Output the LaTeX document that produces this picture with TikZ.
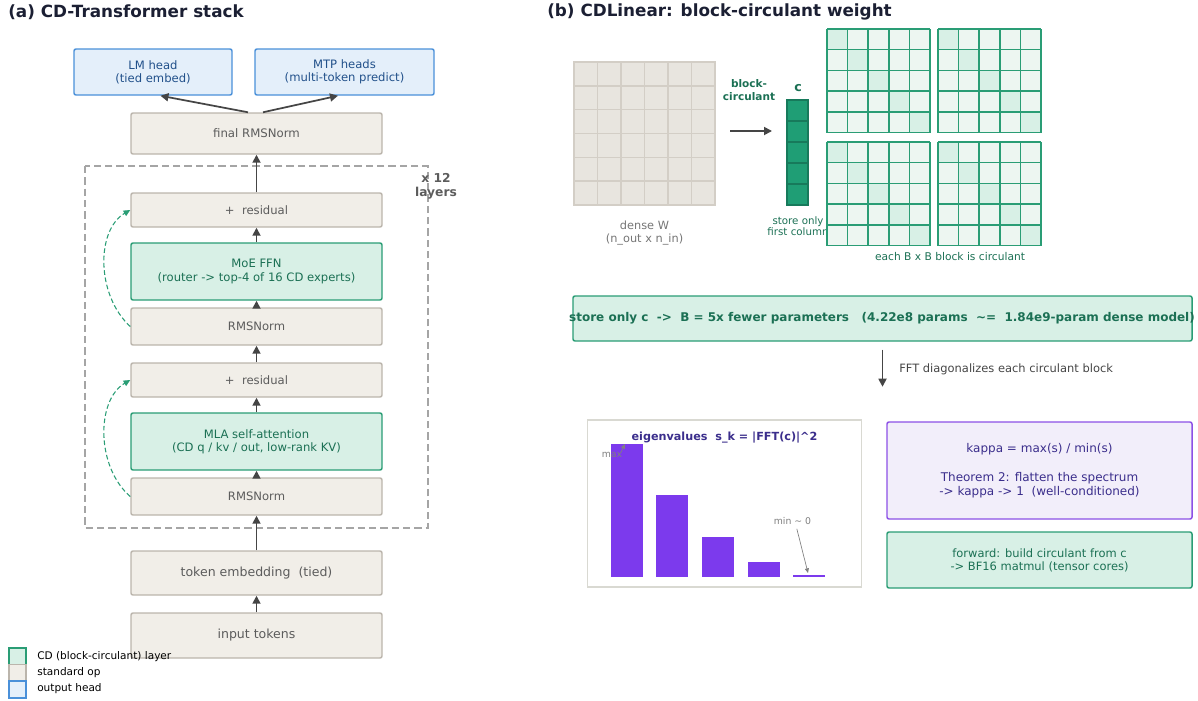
\documentclass[tikz,border=0pt]{standalone}
\usepackage{fontspec}
\setmainfont{DejaVu Sans}
\usetikzlibrary{arrows.meta}

% palette
\definecolor{cdfill}{HTML}{D8F0E6}
\definecolor{cdline}{HTML}{2A9D75}
\definecolor{cdtext}{HTML}{1B7054}
\definecolor{stdfill}{HTML}{F1EEE8}
\definecolor{stdline}{HTML}{BBB5AC}
\definecolor{stdtext}{HTML}{5C5C5C}
\definecolor{headfill}{HTML}{E4EFFA}
\definecolor{headline}{HTML}{4A90D9}
\definecolor{headtext}{HTML}{21508A}
\definecolor{titletext}{HTML}{1B1F33}
\definecolor{flowgray}{HTML}{454545}
\definecolor{framegray}{HTML}{A5A5A5}
\definecolor{densefill}{HTML}{E8E5DF}
\definecolor{denseline}{HTML}{D3CEC6}
\definecolor{cdark}{HTML}{1F9E75}
\definecolor{cdarkline}{HTML}{177A5B}
\definecolor{cellfill}{HTML}{EDF6F1}
\definecolor{barpurple}{HTML}{7C3AED}
\definecolor{kapfill}{HTML}{F2EEFA}
\definecolor{kapline}{HTML}{8C50E6}
\definecolor{kaptext}{HTML}{3B2E8C}
\definecolor{annotgray}{HTML}{808080}
\definecolor{chartline}{HTML}{D9D9D2}

\tikzset{
  opbox/.style={draw, rounded corners=1.5pt, line width=1.1pt, align=center, inner sep=0pt,
    font=\fontsize{8.7}{9.8}\selectfont},
  stdbox/.style={opbox, fill=stdfill, draw=stdline, text=stdtext},
  cdbox/.style={opbox, fill=cdfill, draw=cdline, text=cdtext},
  headbox/.style={opbox, fill=headfill, draw=headline, text=headtext},
  flow/.style={-{Stealth[inset=0pt, length=6pt, width=6pt]}, line width=1.3pt, draw=flowgray},
  skiparrow/.style={-{Stealth[inset=0pt, length=5pt, width=4.5pt]}, dash pattern=on 3.5pt off 2pt,
    line width=0.8pt, draw=cdline},
  annot/.style={-{Stealth[inset=0pt, length=3.5pt, width=3pt]}, line width=0.5pt, draw=annotgray},
  paneltitle/.style={anchor=west, inner sep=0pt, text=titletext, font=\fontsize{12.6}{14}\selectfont\bfseries},
  legendkey/.style={draw, line width=1.1pt, minimum size=12.75pt, inner sep=0pt},
  legendtext/.style={anchor=west, inner sep=0pt, font=\fontsize{7.9}{9}\selectfont},
}

\begin{document}
\begin{tikzpicture}[x=0.75pt, y=-0.75pt]
  \useasboundingbox (0,0) rectangle (1198,700);

  % ---- (a) stack ----
  \node[paneltitle] (titlea) at (8,12) {(a) CD-Transformer stack};

  % output heads
  \node[headbox, minimum width=118.5pt, minimum height=34.5pt] (lmhead) at (153,72) {LM head\\(tied embed)};
  \node[headbox, minimum width=134.25pt, minimum height=34.5pt] (mtp) at (344.5,72) {MTP heads\\(multi-token predict)};
  \node[stdbox, minimum width=188.25pt, minimum height=30.75pt, font=\fontsize{8.8}{10}\selectfont] (finalnorm) at (256.5,133.5) {final RMSNorm};

  % repeated layer
  \draw[framegray, line width=1.1pt, dash pattern=on 5.5pt off 3pt] (85,166) rectangle (428,528);
  \node[align=center, text=stdtext, inner sep=0pt, font=\fontsize{9.2}{10.5}\selectfont\bfseries] (repeatlabel) at (436,186) {x 12\\layers};

  \node[stdbox, minimum width=188.25pt, minimum height=25.5pt] (res2) at (256.5,210) {+\ \ residual};
  \node[cdbox, minimum width=188.25pt, minimum height=42.75pt] (moe) at (256.5,271.5) {MoE FFN\\(router -> top-4 of 16 CD experts)};
  \node[stdbox, minimum width=188.25pt, minimum height=27.75pt] (norm2) at (256.5,326.5) {RMSNorm};
  \node[stdbox, minimum width=188.25pt, minimum height=25.5pt] (res1) at (256.5,380) {+\ \ residual};
  \node[cdbox, minimum width=188.25pt, minimum height=42.75pt] (mla) at (256.5,441.5) {MLA self-attention\\(CD q / kv / out, low-rank KV)};
  \node[stdbox, minimum width=188.25pt, minimum height=27.75pt] (norm1) at (256.5,496.5) {RMSNorm};

  % input side
  \node[stdbox, minimum width=188.25pt, minimum height=33pt, font=\fontsize{9.4}{11}\selectfont] (embed) at (256.5,573) {token embedding\ \ (tied)};
  \node[stdbox, minimum width=188.25pt, minimum height=33.75pt, font=\fontsize{9.4}{11}\selectfont] (tokens) at (256.5,635.5) {input tokens};

  % data flow
  \draw[flow] (tokens.north) -- (embed.south);
  \draw[flow] (embed.north) -- (norm1.south);
  \draw[flow] (norm1.north) -- (mla.south);
  \draw[flow] (mla.north) -- (res1.south);
  \draw[flow] (res1.north) -- (norm2.south);
  \draw[flow] (norm2.north) -- (moe.south);
  \draw[flow] (moe.north) -- (res2.south);
  \draw[flow] (res2.north) -- (finalnorm.south);
  \draw[flow] ([xshift=-6.4pt]finalnorm.north) -- ([xshift=5.6pt]lmhead.south);
  \draw[flow] ([xshift=4.9pt]finalnorm.north) -- ([xshift=-4.9pt]mtp.south);

  % residual skips
  \draw[skiparrow] (norm2.west) .. controls (96,295) and (96,230) .. (res2.west);
  \draw[skiparrow] (norm1.west) .. controls (96,467) and (96,400) .. (res1.west);

  % legend
  \node[legendkey, fill=cdfill, draw=cdline] (keycd) at (17.5,656.5) {};
  \node[legendkey, fill=stdfill, draw=stdline] (keystd) at (17.5,673) {};
  \node[legendkey, fill=headfill, draw=headline] (keyhead) at (17.5,689.5) {};
  \node[legendtext] (legcd) at (37,657) {CD (block-circulant) layer};
  \node[legendtext] (legstd) at (37,673) {standard op};
  \node[legendtext] (leghead) at (37,689) {output head};

  % ---- (b) CDLinear ----
  \node[paneltitle] (titleb) at (547,12) {(b) CDLinear: block-circulant weight};

  % dense W
  \node[draw=denseline, fill=densefill, line width=1.1pt, minimum width=105.75pt, minimum height=107.25pt, inner sep=0pt] (densew) at (644.5,133.5) {};
  \foreach \i in {1,...,5} {
    \draw[denseline, line width=1.1pt] ({574+\i*23.5},62) -- ({574+\i*23.5},205);
    \draw[denseline, line width=1.1pt] (574,{62+\i*23.83}) -- (715,{62+\i*23.83});
  }
  \node[align=center, text=stdtext!85, inner sep=0pt, font=\fontsize{8.5}{9.5}\selectfont] (densecap) at (644.5,233) {dense W\\(n\_out x n\_in)};

  % compression arrow
  \node[align=center, text=cdtext, inner sep=0pt, font=\fontsize{7.9}{9.75}\selectfont\bfseries] (bclabel) at (749,90.5) {block-\\circulant};
  \coordinate (squeezefrom) at (730,131);
  \coordinate (squeezeto) at (772,131);
  \draw[flow] (squeezefrom) -- (squeezeto);

  % stored column c
  \node[inner sep=0pt, text=cdtext, font=\fontsize{9.5}{11}\selectfont\bfseries] (clabel) at (798,88) {c};
  \node[draw=cdarkline, fill=cdark, line width=0.8pt, minimum width=15.75pt, minimum height=78.75pt, inner sep=0pt] (ccol) at (797.5,152.5) {};
  \foreach \i in {1,...,4}
    \draw[cdarkline, line width=1.1pt] (787,{100+\i*21}) -- (808,{100+\i*21});
  \node[align=center, text=cdtext, inner sep=0pt, font=\fontsize{7.7}{8.25}\selectfont] (ccap) at (798,226.5) {store only\\first column};

  % circulant blocks
  \foreach \bx/\by in {827/29, 938/29, 827/142, 938/142} {
    \fill[cellfill] (\bx,\by) rectangle ({\bx+103},{\by+103.5});
    \foreach \k in {0,...,4}
      \fill[cdfill] ({\bx+\k*20.6},{\by+\k*20.7}) rectangle ({\bx+\k*20.6+20.6},{\by+\k*20.7+20.7});
    \foreach \k in {0,...,5} {
      \draw[cdline, line width=1.1pt] ({\bx+\k*20.6},\by) -- ({\bx+\k*20.6},{\by+103.5});
      \draw[cdline, line width=1.1pt] (\bx,{\by+\k*20.7}) -- ({\bx+103},{\by+\k*20.7});
    }
  }
  \node[text=cdtext, inner sep=0pt, font=\fontsize{8}{9}\selectfont] (blocklabel) at (950,257) {each B x B block is circulant};

  % parameter count
  \node[cdbox, minimum width=464.25pt, minimum height=33.75pt] (paramstrip) at (882.5,318.5) {};
  \node[text=cdtext, inner sep=0pt, font=\fontsize{9}{10}\selectfont\bfseries] (paramtext) at (882,318.5)
    {store only c\ \ ->\ \ B = 5x fewer parameters\ \ \ (4.22e8 params\ \ \textasciitilde=\ \ 1.84e9-param dense model)};

  \draw[flow] ([yshift=-6pt]paramstrip.south) -- ++(0,37);
  \node[anchor=west, inner sep=0pt, text=flowgray, font=\fontsize{8.6}{10}\selectfont] (fftlabel) at (899,369) {FFT diagonalizes each circulant block};

  % eigenvalue spectrum
  \node[draw=chartline, fill=white, line width=1.1pt, minimum width=205.5pt, minimum height=125.25pt, inner sep=0pt] (chart) at (724.5,503.5) {};
  \foreach \xl/\top in {611/444, 656/495, 702/537, 748/562, 793/575}
    \fill[barpurple] (\xl,\top) rectangle ({\xl+32},577);
  \node[text=kaptext, inner sep=0pt, font=\fontsize{8.4}{10}\selectfont\bfseries] (charttitle) at (724.5,437.5) {eigenvalues\ \ s\_k = |FFT(c)|\textasciicircum 2};
  \node[text=annotgray, inner sep=0pt, font=\fontsize{7}{8}\selectfont] (maxlabel) at (612,455) {max};
  \coordinate (bar1top) at (625,444);
  \draw[annot] ([xshift=-1pt]maxlabel.north east) -- (bar1top);
  \node[text=annotgray, inner sep=0pt, font=\fontsize{7}{8}\selectfont] (minlabel) at (792.5,521) {min \textasciitilde{} 0};
  \coordinate (bar5top) at (808,573);
  \draw[annot, shorten <=3pt] ([xshift=2.5pt]minlabel.south) -- (bar5top);

  % condition number
  \node[opbox, fill=kapfill, draw=kapline, text=kaptext, minimum width=228.75pt, minimum height=72.75pt, font=\fontsize{9}{10.9}\selectfont] (kappabox) at (1039.5,470.5)
    {kappa = max(s) / min(s)\\[10.9pt]Theorem 2: flatten the spectrum\\-> kappa -> 1\ \ (well-conditioned)};
  \node[cdbox, minimum width=228.75pt, minimum height=42pt, font=\fontsize{8.6}{9.75}\selectfont] (fwdbox) at (1039.5,560)
    {forward: build circulant from c\\-> BF16 matmul (tensor cores)};
\end{tikzpicture}
\end{document}
